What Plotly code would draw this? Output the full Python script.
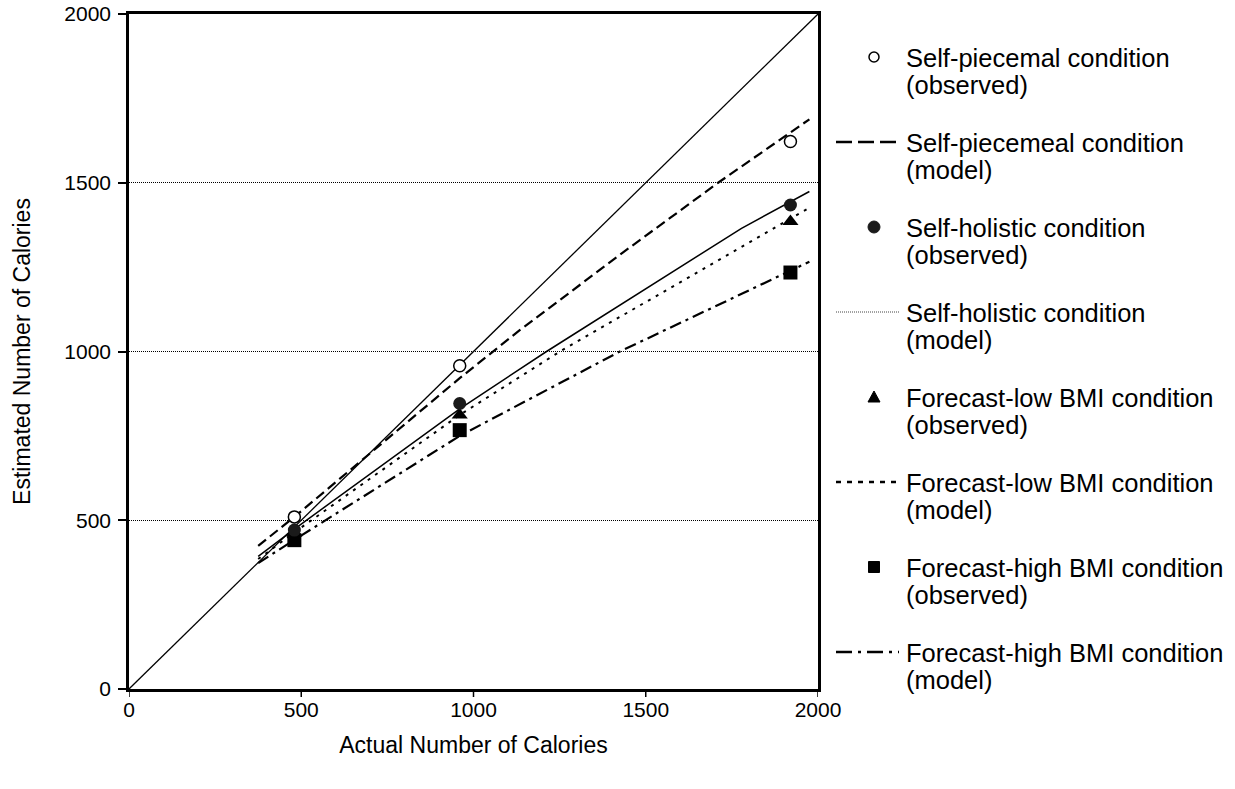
import plotly.graph_objects as go

# ---------------- data ----------------
obs_x = [480, 960, 1920]
piecemeal_obs = [510, 958, 1622]
holistic_obs = [471, 846, 1434]
fc_low_obs = [462, 812, 1385]
fc_high_obs = [441, 767, 1234]

identity_x = [0, 2000]
identity_y = [0, 2000]

piecemeal_model_x = [375, 480, 960, 1135, 1440, 1710, 1975]
piecemeal_model_y = [424, 510, 921, 1064, 1298, 1500, 1688]
holistic_model_x = [375, 480, 960, 1212, 1778, 1975]
holistic_model_y = [393, 474, 830, 1000, 1365, 1474]
fc_low_model_x = [375, 480, 960, 1251, 1975]
fc_low_model_y = [385, 464, 812, 1000, 1426]
fc_high_model_x = [375, 480, 960, 1425, 1975]
fc_high_model_y = [373, 442, 750, 1000, 1266]

tick_vals = [0, 500, 1000, 1500, 2000]
tick_text = ["0", "500", "1000", "1500", "2000"]

legend_line1 = [
    "Self-piecemal condition",
    "Self-piecemeal condition",
    "Self-holistic condition",
    "Self-holistic condition",
    "Forecast-low BMI condition",
    "Forecast-low BMI condition",
    "Forecast-high BMI condition",
    "Forecast-high BMI condition",
]
legend_line2 = ["(observed)", "(model)", "(observed)", "(model)",
                "(observed)", "(model)", "(observed)", "(model)"]

x_title = "Actual Number of Calories"
y_title = "Estimated Number of Calories"

# ---------------- figure ----------------
FONT = "Liberation Sans, Arial, sans-serif"
fig = go.Figure()

fig.add_trace(go.Scatter(x=identity_x, y=identity_y, mode="lines",
                         line=dict(color="black", width=1.3), showlegend=False, hoverinfo="skip"))
fig.add_trace(go.Scatter(x=piecemeal_model_x, y=piecemeal_model_y, mode="lines",
                         line=dict(color="black", width=2.2, dash="10px,5px"), showlegend=False))
fig.add_trace(go.Scatter(x=holistic_model_x, y=holistic_model_y, mode="lines",
                         line=dict(color="black", width=1.5), showlegend=False))
fig.add_trace(go.Scatter(x=fc_low_model_x, y=fc_low_model_y, mode="lines",
                         line=dict(color="black", width=2, dash="3px,6px"), showlegend=False))
fig.add_trace(go.Scatter(x=fc_high_model_x, y=fc_high_model_y, mode="lines",
                         line=dict(color="black", width=2.2, dash="12px,5px,3px,5px"), showlegend=False))

fig.add_trace(go.Scatter(x=obs_x, y=fc_high_obs, mode="markers",
                         marker=dict(symbol="square", size=14, color="black"), showlegend=False))
fig.add_trace(go.Scatter(x=obs_x, y=fc_low_obs, mode="markers",
                         marker=dict(symbol="triangle-up", size=14, color="black"), showlegend=False))
fig.add_trace(go.Scatter(x=obs_x, y=holistic_obs, mode="markers",
                         marker=dict(symbol="circle", size=13, color="#1a1a1a"), showlegend=False))
fig.add_trace(go.Scatter(x=obs_x, y=piecemeal_obs, mode="markers",
                         marker=dict(symbol="circle", size=12, color="white",
                                     line=dict(color="black", width=1.5)), showlegend=False))

# ---------------- manual legend ----------------
L, R, T, B = 129, 818, 14, 689
W, H = R - L, B - T


def px2x(px):
    return (px - L) / W


def py2y(py):
    return (B - py) / H


pitch = 85
first = 58
line_gap = 27
text_x = 904
sym_x = 874
shapes = []
annotations = []
for k in range(8):
    yc = first + pitch * k
    annotations.append(dict(x=px2x(text_x), y=py2y(yc), xref="paper", yref="paper",
                            text=legend_line1[k], showarrow=False, xanchor="left", yanchor="middle",
                            font=dict(family=FONT, size=25.5, color="black")))
    annotations.append(dict(x=px2x(text_x), y=py2y(yc + line_gap), xref="paper", yref="paper",
                            text=legend_line2[k], showarrow=False, xanchor="left", yanchor="middle",
                            font=dict(family=FONT, size=25.5, color="black")))
    sy = yc - 1
    if k == 0:
        shapes.append(dict(type="circle", xref="paper", yref="paper", xsizemode="pixel", ysizemode="pixel",
                           xanchor=px2x(sym_x), yanchor=py2y(sy), x0=-5, x1=5, y0=-5, y1=5,
                           line=dict(color="black", width=1.5), fillcolor="white"))
    elif k == 2:
        shapes.append(dict(type="circle", xref="paper", yref="paper", xsizemode="pixel", ysizemode="pixel",
                           xanchor=px2x(sym_x), yanchor=py2y(sy), x0=-6, x1=6, y0=-6, y1=6,
                           line=dict(color="#1a1a1a", width=1), fillcolor="#1a1a1a"))
    elif k == 4:
        shapes.append(dict(type="path", xref="paper", yref="paper", xsizemode="pixel", ysizemode="pixel",
                           xanchor=px2x(sym_x), yanchor=py2y(sy),
                           path="M -6,-5 L 6,-5 L 0,6 Z",
                           line=dict(color="black", width=1), fillcolor="black"))
    elif k == 6:
        shapes.append(dict(type="rect", xref="paper", yref="paper", xsizemode="pixel", ysizemode="pixel",
                           xanchor=px2x(sym_x), yanchor=py2y(sy), x0=-5.5, x1=5.5, y0=-5.5, y1=5.5,
                           line=dict(color="black", width=1), fillcolor="black"))
    else:
        styles = {1: dict(color="black", width=2.5, dash="16px,6px"),
                  3: dict(color="#444444", width=1, dash="1px,1px"),
                  5: dict(color="black", width=2.5, dash="5px,6px"),
                  7: dict(color="black", width=2.5, dash="16px,6px,3px,6px")}
        shapes.append(dict(type="line", xref="paper", yref="paper",
                           x0=px2x(836), x1=px2x(899), y0=py2y(sy), y1=py2y(sy),
                           line=styles[k]))

# x-axis tick marks (outside) drawn at the axis tick values
for v in tick_vals:
    shapes.append(dict(type="line", xref="x", yref="paper", ysizemode="pixel", yanchor=0,
                       x0=v, x1=v, y0=0, y1=-8, line=dict(color="black", width=1.5)))

tickfont = dict(family=FONT, size=21, color="black")
axis_common = dict(range=[0, 2000], tickvals=tick_vals, ticktext=tick_text,
                   showline=True, linecolor="black", linewidth=2.5, mirror=True,
                   zeroline=False, fixedrange=True, tickfont=tickfont)

fig.update_layout(
    width=1235, height=789,
    margin=dict(l=L, r=1235 - R, t=T, b=789 - B, autoexpand=False),
    paper_bgcolor="white", plot_bgcolor="white",
    showlegend=False,
    xaxis=dict(**axis_common, showgrid=False, ticks="",
               title=dict(text=x_title, standoff=17, font=dict(family=FONT, size=23, color="black"))),
    yaxis=dict(**axis_common, showgrid=True, gridcolor="black", gridwidth=1, griddash="1px,1px",
               ticks="outside", ticklen=8, tickwidth=1.5, tickcolor="black",
               ticklabelstandoff=3,
               title=dict(text=y_title, standoff=28, font=dict(family=FONT, size=23, color="black"))),
    shapes=shapes,
    annotations=annotations,
)

fig.write_html("out.html", config={"displayModeBar": False},
               post_script="document.body.style.margin='0px';")
